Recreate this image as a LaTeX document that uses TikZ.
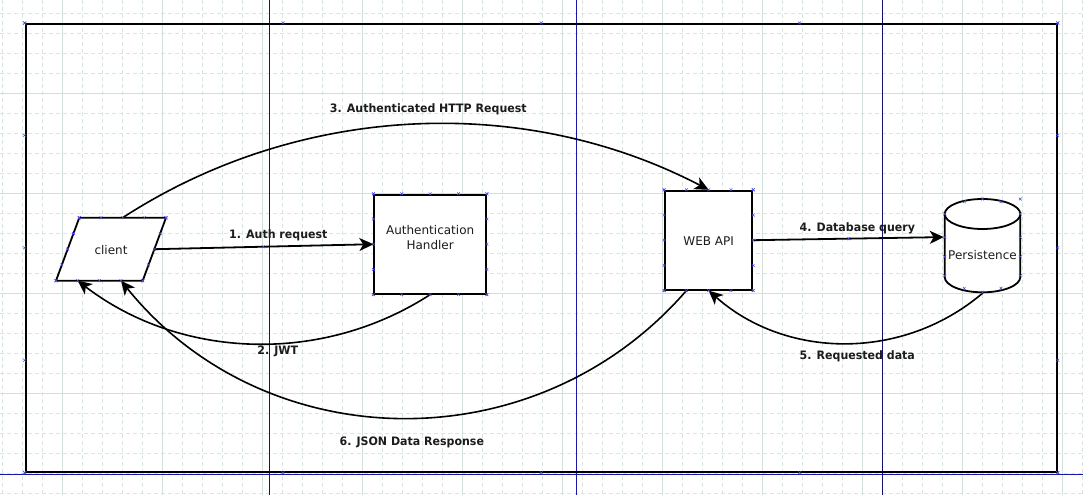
\documentclass[tikz,border=0pt]{standalone}
\usepackage{fontspec}
\setmainfont{DejaVu Sans}
\newfontfamily\lblfont{DejaVu Sans}[FakeStretch=0.95]
\usetikzlibrary{arrows.meta,shapes.geometric,calc}
\definecolor{gridminor}{HTML}{D8E5E1}
\definecolor{gridmajor}{HTML}{D2DFDB}
\definecolor{guidedark}{HTML}{14146E}
\definecolor{guideblue}{HTML}{1818A8}
\definecolor{markblue}{HTML}{4A4AE8}
\definecolor{inktext}{HTML}{1C1C1C}
\tikzset{
  box/.style={draw=black, fill=white, line width=1.8pt, inner sep=0pt,
    text height=11pt, text depth=0pt, font=\fontsize{12}{15}\selectfont,
    text=inktext, align=center},
  outline/.style={draw=black, fill=white, line width=1.8pt},
  lbl/.style={font=\lblfont\bfseries\fontsize{11.6}{14}\selectfont,
    text=inktext, anchor=base, inner sep=0pt},
  flow/.style={draw=black, line width=1.8pt,
    -{Stealth[length=14pt,width=13pt,inset=3.8pt]}},
  bow/.style={flow, line width=1.6pt},
  gridthin/.style={gridminor, line width=0.8pt, dash pattern=on 4pt off 3pt},
  gridthick/.style={gridmajor, line width=0.9pt},
  cp/.pic={\draw[markblue, line width=0.5pt] (-1.4,-1.4)--(1.4,1.4) (-1.4,1.4)--(1.4,-1.4);},
}
\newcommand\edgemarks[2]{\foreach \t in {0,0.25,0.5,0.75,1}{\pic at ($#1!\t!#2$) {cp};}}
\begin{document}
\begin{tikzpicture}[x=1pt, y=1pt]
  \useasboundingbox (0,0) rectangle (1083,-495);
  \fill[white] (0,0) rectangle (1083,-495);
  % grid
  \foreach \gx in {2,22,...,1082} \draw[gridthin] (\gx,0) -- (\gx,-495);
  \foreach \gy in {13,33,...,493} \draw[gridthin] (0,-\gy) -- (1083,-\gy);
  \foreach \gx in {62,162,...,1062} \draw[gridthick] (\gx,0) -- (\gx,-495);
  \foreach \gy in {93,193,293,393} \draw[gridthick] (0,-\gy) -- (1083,-\gy);
  % guides
  \draw[guidedark, line width=1pt] (269.4,0) -- (269.4,-495);
  \draw[guidedark, line width=1pt] (882.7,0) -- (882.7,-495);
  \draw[guideblue, line width=1pt] (576.3,0) -- (576.3,-495);
  \draw[guideblue, line width=1pt] (0,-474.3) -- (1083,-474.3);
  % frame
  \node[draw=black, line width=2pt, minimum width=1031pt, minimum height=447.7pt,
        inner sep=0pt] (frame) at (541.2,-247.85) {};
  % client (parallelogram)
  \coordinate (clientbox) at (111,-249.2);
  \coordinate (ctl) at ($(clientbox)+(-31.7,31.5)$);
  \coordinate (ctr) at ($(clientbox)+(55,31.5)$);
  \coordinate (cbr) at ($(clientbox)+(31.7,-31.5)$);
  \coordinate (cbl) at ($(clientbox)+(-55,-31.5)$);
  \path[outline] (ctl) -- (ctr) -- (cbr) -- (cbl) -- cycle;
  \node[inner sep=0pt, text height=11pt, text depth=0pt, text=inktext,
        font=\fontsize{12}{15}\selectfont, minimum width=110pt, minimum height=63pt]
        (client) at (clientbox) {client};
  % cylinder outline
  \filldraw[outline]
    (944.7,-214) -- (944.7,-277)
    arc[start angle=180, end angle=360, x radius=37.8, y radius=15.3]
    -- (1020.3,-214)
    arc[start angle=0, end angle=180, x radius=37.8, y radius=15] -- cycle;
  \draw[black, line width=1.8pt] (944.7,-214)
    arc[start angle=180, end angle=360, x radius=37.8, y radius=15];
  % nodes
  \node[box, minimum width=111.7pt, minimum height=99pt] (auth)
        at (430.15,-244.2) {Authentication\\Handler};
  \node[box, minimum width=87.3pt, minimum height=99pt] (webapi)
        at (708.65,-240.2) {WEB API};
  \node[box, draw=none, fill=none, minimum width=75.6pt, minimum height=93.3pt,
        text height=26.7pt] (persist) at (982.5,-245.65) {Persistence};
  % connectors
  \draw[flow] ($(ctr)!0.5!(cbr)$) -- (auth.west);
  \draw[bow] (auth.south) to[bend left=35.2, looseness=0.936]
        ($(cbl)!0.25!(cbr)$);
  \draw[bow] ($(ctl)!0.5!(ctr)$) to[bend left=30.25, looseness=0.913] (webapi.north);
  \draw[flow] (webapi.east) -- ($(persist.north west)!0.41!(persist.south west)$);
  \draw[bow] (persist.south) to[bend left=41, looseness=0.97] (webapi.south);
  \draw[bow] ($(webapi.south west)!0.25!(webapi.south east)$)
        to[bend left=50.1, looseness=1.037]
        ($(cbl)!0.75!(cbr)$);
  % labels
  \node[lbl] (l1) at (278.3,-238) {1. Auth request};
  \node[lbl] (l2) at (277.7,-354.5) {2. JWT};
  \node[lbl] (l3) at (428.3,-112.7) {3. Authenticated HTTP Request};
  \node[lbl] (l4) at (857.3,-231) {4. Database query};
  \node[lbl] (l5) at (857.3,-359.3) {5. Requested data};
  \node[lbl] (l6) at (411.8,-445) {6. JSON Data Response};
  % connection point marks
  \edgemarks{(frame.north west)}{(frame.north east)}
  \edgemarks{(frame.south west)}{(frame.south east)}
  \edgemarks{(frame.north west)}{(frame.south west)}
  \edgemarks{(frame.north east)}{(frame.south east)}
  \edgemarks{(auth.north west)}{(auth.north east)}
  \edgemarks{(auth.south west)}{(auth.south east)}
  \edgemarks{(auth.north west)}{(auth.south west)}
  \edgemarks{(auth.north east)}{(auth.south east)}
  \edgemarks{(webapi.north west)}{(webapi.north east)}
  \edgemarks{(webapi.south west)}{(webapi.south east)}
  \edgemarks{(webapi.north west)}{(webapi.south west)}
  \edgemarks{(webapi.north east)}{(webapi.south east)}
  \edgemarks{(ctl)}{(ctr)}
  \edgemarks{(cbl)}{(cbr)}
  \edgemarks{(ctl)}{(cbl)}
  \edgemarks{(ctr)}{(cbr)}
  \foreach \mx/\my in {944.7/214, 944.7/237.3, 944.7/256.7, 944.7/275.7,
      1020.3/214, 1020.3/237.3, 1020.3/256.7, 1020.3/275.7,
      964.3/201.7, 982.5/199, 1001/201.7, 964.3/288.3, 982.5/292.3,
      1001/288.3, 1020.3/199, 263.3/246.7, 848.5/238.8}
    \pic at (\mx,-\my) {cp};
\end{tikzpicture}
\end{document}
